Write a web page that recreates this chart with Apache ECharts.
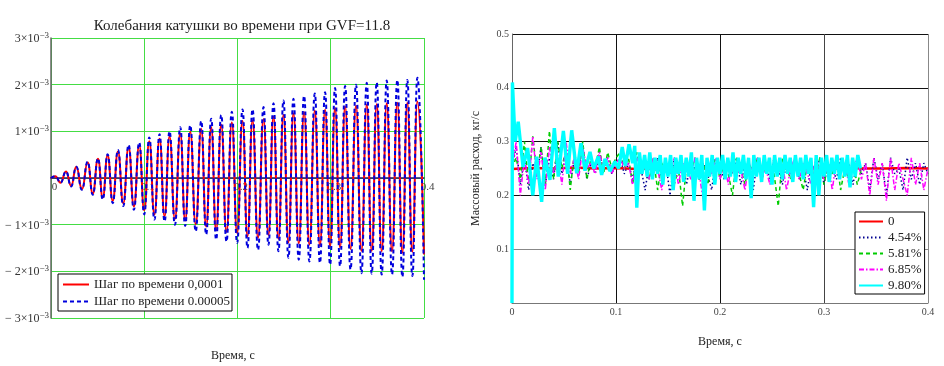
<!DOCTYPE html>
<html><head><meta charset="utf-8">
<script src="https://cdn.jsdelivr.net/npm/echarts@6/dist/echarts.min.js"></script>
<style>html,body{margin:0;padding:0;background:#fff}#c{width:944px;height:366px}</style>
</head><body><div id="c"></div>
<script>
// ---------- Left chart: coil oscillation (values in units of 1e-3) ----------
const leftTimeS = [0,
0.0046,0.0103,0.0161,0.0216,0.0271,0.0332,0.0393,0.0448,0.0504,0.0555,0.0607,0.0662,0.0718,0.0775,0.0832,0.0889,0.0946,0.1000,
0.1054,0.1109,0.1164,0.1218,0.1271,0.1329,0.1386,0.1439,0.1493,0.1552,0.1611,0.1664,0.1718,0.1771,0.1825,0.1882,0.1939,0.1996,
0.2054,0.2107,0.2161,0.2220,0.2279,0.2332,0.2386,0.2439,0.2493,0.2546,0.2600,0.2657,0.2714,0.2771,0.2829,0.2884,0.2939,0.2993,
0.3046,0.3100,0.3154,0.3212,0.3271,0.3329,0.3386,0.3439,0.3493,0.3546,0.3600,0.3657,0.3714,0.3768,0.3821,0.3875,0.3929,0.4000];
const coilStep0001 = [0,
0.04,-0.10,0.14,-0.17,0.24,-0.24,0.33,-0.33,0.41,-0.42,0.49,-0.49,0.57,-0.54,0.66,-0.61,0.70,-0.69,
0.79,-0.78,0.84,-0.82,0.89,-0.88,0.96,-0.91,0.99,-0.99,1.05,-1.04,1.09,-1.12,1.14,-1.15,1.19,-1.18,
1.22,-1.25,1.23,-1.28,1.26,-1.22,1.31,-1.30,1.35,-1.38,1.38,-1.40,1.41,-1.43,1.44,-1.45,1.46,-1.47,
1.50,-1.49,1.53,-1.52,1.55,-1.56,1.57,-1.56,1.58,-1.57,1.60,-1.57,1.61,-1.60,1.61,-1.58,1.64,-1.64];
const coilStep00005 = [0,
0.04,-0.10,0.14,-0.18,0.24,-0.25,0.35,-0.36,0.42,-0.46,0.51,-0.54,0.60,-0.60,0.71,-0.68,0.76,-0.78,
0.87,-0.89,0.94,-0.93,1.00,-1.00,1.09,-1.03,1.13,-1.14,1.22,-1.21,1.27,-1.32,1.35,-1.36,1.42,-1.39,
1.47,-1.50,1.47,-1.54,1.52,-1.43,1.60,-1.57,1.66,-1.71,1.70,-1.75,1.76,-1.79,1.81,-1.82,1.84,-1.86,
1.93,-1.89,1.97,-1.96,2.00,-2.04,2.04,-2.05,2.05,-2.07,2.09,-2.07,2.10,-2.12,2.10,-2.10,2.15,-2.18];
const leftTitle = 'Колебания катушки во времени при GVF=11.8';
const leftNames = ['Шаг по времени 0,0001', 'Шаг по времени 0.00005'];

// ---------- Right chart: mass flow (kg/s) ----------
const flowTimeS = [0,0.004,0.008,0.012,0.016,0.02,0.024,0.028,0.032,0.036,0.04,0.044,0.048,0.052,0.056,0.06,0.064,0.068,0.072,0.076,0.08,0.084,0.088,0.092,0.096,0.1,
0.104,0.108,0.112,0.116,0.12,0.124,0.128,0.132,0.136,0.14,0.144,0.148,0.152,0.156,0.16,0.164,0.168,0.172,0.176,0.18,0.184,0.188,0.192,0.196,0.2,
0.204,0.208,0.212,0.216,0.22,0.224,0.228,0.232,0.236,0.24,0.244,0.248,0.252,0.256,0.26,0.264,0.268,0.272,0.276,0.28,0.284,0.288,0.292,0.296,0.3,
0.304,0.308,0.312,0.316,0.32,0.324,0.328,0.332,0.336,0.34,0.344,0.348,0.352,0.356,0.36,0.364,0.368,0.372,0.376,0.38,0.384,0.388,0.392,0.396,0.4];
const flow454 = [0.25,0.29,0.22,0.27,0.21,0.26,0.24,0.29,0.22,0.27,0.23,0.30,0.24,0.28,0.22,0.27,0.25,0.29,0.23,0.26,0.24,0.28,0.25,0.27,0.24,0.26,
0.27,0.24,0.26,0.23,0.27,0.25,0.21,0.26,0.24,0.27,0.23,0.26,0.20,0.27,0.24,0.26,0.22,0.27,0.25,0.23,0.26,0.24,0.21,0.27,0.25,
0.23,0.26,0.24,0.27,0.22,0.26,0.25,0.21,0.27,0.24,0.26,0.23,0.27,0.25,0.22,0.26,0.24,0.27,0.23,0.25,0.21,0.26,0.24,0.27,0.22,
0.26,0.25,0.23,0.27,0.24,0.26,0.22,0.27,0.24,0.26,0.21,0.27,0.23,0.26,0.20,0.27,0.24,0.25,0.21,0.27,0.23,0.26,0.22,0.26,0.24];
const flow581 = [0.25,0.27,0.23,0.30,0.22,0.31,0.24,0.29,0.22,0.32,0.23,0.30,0.25,0.29,0.21,0.28,0.24,0.30,0.23,0.27,0.25,0.29,0.24,0.28,0.25,0.27,
0.28,0.25,0.27,0.22,0.28,0.24,0.26,0.23,0.27,0.21,0.26,0.24,0.27,0.22,0.25,0.18,0.26,0.24,0.27,0.23,0.26,0.22,0.25,0.27,0.23,
0.26,0.24,0.20,0.27,0.25,0.22,0.26,0.24,0.27,0.23,0.25,0.26,0.24,0.18,0.27,0.25,0.23,0.27,0.24,0.21,0.26,0.25,0.23,0.27,0.22,
0.26,0.24,0.27,0.21,0.25,0.23,0.26,0.22,0.25];
const flow685 = [0.25,0.30,0.20,0.27,0.22,0.31,0.23,0.28,0.21,0.29,0.24,0.27,0.22,0.30,0.24,0.27,0.23,0.29,0.25,0.26,0.24,0.28,0.25,0.27,0.24,0.26,
0.27,0.25,0.26,0.22,0.27,0.24,0.26,0.23,0.27,0.25,0.21,0.26,0.24,0.27,0.22,0.26,0.25,0.23,0.27,0.24,0.19,0.26,0.24,0.27,0.23,
0.26,0.22,0.27,0.24,0.25,0.21,0.26,0.24,0.27,0.23,0.25,0.22,0.27,0.24,0.26,0.21,0.25,0.27,0.23,0.26,0.24,0.22,0.27,0.25,0.23,
0.26,0.21,0.27,0.24,0.26,0.22,0.25,0.27,0.23,0.26,0.20,0.27,0.22,0.26,0.19,0.27,0.21,0.26,0.23,0.20,0.27,0.22,0.26,0.21,0.25];
const redTimeS = [0,0.02,0.04,0.06,0.08,0.1,0.12,0.14,0.16,0.18,0.2,0.22,0.24,0.26,0.28,0.3,0.32,0.34,0.36,0.38,0.4];
const flow0 = [0.249,0.251,0.250,0.252,0.250,0.251,0.249,0.250,0.251,0.250,0.249,0.250,0.251,0.250,0.250,0.249,0.251,0.250,0.250,0.251,0.250];
const cyanTimeS = [0,0.0004,0.003,0.006,0.0106,0.015,0.020,0.0237,0.0285,0.0317,0.0365,0.0407,0.0445,0.0494,0.0535,0.0574,0.0622,0.0663,0.0702,0.075,
0.0785,0.083,0.0862,0.0894,0.0942,0.099,0.1025,0.106,0.109,0.1125,0.116,0.118,0.12,
0.1225,0.125,0.1275,0.13,0.1325,0.135,0.1375,0.14,0.1425,0.145,0.1475,0.15,0.1525,0.155,0.1575,0.16,0.1625,0.165,0.1675,0.17,
0.1725,0.175,0.1775,0.18,0.1825,0.185,0.1875,0.19,0.1925,0.195,0.1975,0.2,0.2025,0.205,0.2075,0.21,0.2125,0.215,0.2175,0.22,
0.2225,0.225,0.2275,0.23,0.2325,0.235,0.2375,0.24,0.2425,0.245,0.2475,0.25,0.2525,0.255,0.2575,0.26,0.2625,0.265,0.2675,0.27,
0.2725,0.275,0.2775,0.28,0.2825,0.285,0.2875,0.29,0.2925,0.295,0.2975,0.3,0.3025,0.305,0.3075,0.31,0.3125,0.315,0.3175,0.32,
0.3225,0.325,0.3275,0.33,0.3325,0.335];
const flow980 = [0,0.41,0.30,0.337,0.253,0.288,0.20,0.272,0.188,0.27,0.229,0.325,0.235,0.32,0.24,0.321,0.241,0.297,0.246,0.281,
0.25,0.272,0.238,0.268,0.245,0.263,0.25,0.29,0.255,0.295,0.26,0.292,0.177,
0.28,0.24,0.275,0.235,0.28,0.23,0.27,0.24,0.275,0.22,0.27,0.235,0.275,0.21,0.27,0.24,0.275,0.225,0.27,0.235,
0.28,0.19,0.27,0.23,0.275,0.172,0.27,0.235,0.275,0.22,0.27,0.24,0.275,0.23,0.27,0.235,0.28,0.225,0.27,0.24,
0.275,0.23,0.27,0.195,0.275,0.235,0.27,0.225,0.275,0.24,0.27,0.22,0.275,0.235,0.27,0.23,0.275,0.24,0.27,0.225,
0.275,0.235,0.27,0.23,0.275,0.24,0.27,0.178,0.275,0.20,0.27,0.235,0.275,0.225,0.27,0.24,0.275,0.23,0.27,0.235,
0.275,0.215,0.27,0.235,0.275,0.25];
const rightNames = ['0','4.54%','5.81%','6.85%','9.80%'];

const zip = (t, v) => v.map((y, i) => [t[i], y]);
const SERIF = '"Liberation Serif","DejaVu Serif",serif';
const hiddenSymbol = {color: 'rgba(0,0,0,0)', borderWidth: 0, opacity: 0};

const chart = echarts.init(document.getElementById('c'), null, {renderer: 'canvas'});
const option = {
  animation: false,
  backgroundColor: '#fff',
  title: {text: leftTitle, left: 237, top: 14, textAlign: 'center',
    textStyle: {fontFamily: SERIF, fontSize: 15, fontWeight: 'normal', color: '#222'}},
  grid: [
    {left: 51, top: 38, width: 373, height: 280},
    {left: 512, top: 34, width: 416, height: 269}
  ],
  legend: [
    {data: leftNames, left: 58, top: 274, orient: 'vertical', backgroundColor: '#fff', borderColor: '#000', borderWidth: 1,
      padding: [4, 2, 3, 4], itemWidth: 26, itemHeight: 10, itemGap: 4, itemStyle: hiddenSymbol,
      textStyle: {fontFamily: SERIF, fontSize: 13, color: '#222'}},
    {data: rightNames, left: 855, top: 212, orient: 'vertical', backgroundColor: '#fff', borderColor: '#000', borderWidth: 1,
      padding: [3, 3, 2, 3], itemWidth: 24, itemHeight: 10, itemGap: 3, itemStyle: hiddenSymbol,
      textStyle: {fontFamily: SERIF, fontSize: 13, color: '#222'}}
  ],
  xAxis: [
    {gridIndex: 0, type: 'value', min: 0, max: 0.4, interval: 0.1, position: 'bottom', offset: -140,
      axisLine: {onZero: false, lineStyle: {color: '#1a1a70', width: 1.5}}, axisTick: {show: false},
      axisLabel: {fontFamily: SERIF, fontSize: 11, color: '#444', margin: 4, padding: [0, 0, 0, 7]},
      splitLine: {show: true, lineStyle: {color: '#44dd44', width: 1}}},
    {gridIndex: 1, type: 'value', min: 0, max: 0.4, interval: 0.1,
      name: 'Время, с', nameLocation: 'middle', nameGap: 33,
      nameTextStyle: {fontFamily: SERIF, fontSize: 12, color: '#222'},
      axisLine: {onZero: false, lineStyle: {color: '#777', width: 1}}, axisTick: {show: false},
      axisLabel: {fontFamily: SERIF, fontSize: 10, color: '#444', margin: 4},
      splitLine: {show: true, lineStyle: {color: ['#777', '#111', '#111', '#444', '#888'], width: 1}}}
  ],
  yAxis: [
    {gridIndex: 0, type: 'value', min: -3, max: 3, interval: 1,
      axisLine: {show: true, onZero: false, lineStyle: {color: '#666', width: 1.5}}, axisTick: {show: false},
      axisLabel: {margin: 2, formatter: v => v === 0 ? '' : `{b|${v < 0 ? '− ' : ''}${Math.abs(v)}×10}{s|−3}`,
        rich: {b: {fontFamily: SERIF, fontSize: 12, color: '#333', lineHeight: 14, verticalAlign: 'bottom'},
               s: {fontFamily: SERIF, fontSize: 9, color: '#333', lineHeight: 10, verticalAlign: 'top'}}},
      splitLine: {show: true, lineStyle: {color: '#44dd44', width: 1}}},
    {gridIndex: 1, type: 'value', min: 0, max: 0.5, interval: 0.1,
      name: 'Массовый расход, кг/с', nameLocation: 'middle', nameGap: 30, nameRotate: 90,
      nameTextStyle: {fontFamily: SERIF, fontSize: 12, color: '#222'},
      axisLine: {show: true, onZero: false, lineStyle: {color: '#666', width: 1}}, axisTick: {show: false},
      axisLabel: {fontFamily: SERIF, fontSize: 10, color: '#444', margin: 3, formatter: v => v === 0 ? '' : String(v)},
      splitLine: {show: true, lineStyle: {color: ['#777', '#888', '#111', '#111', '#111', '#111'], width: 1}}}
  ],
  graphic: [
    {type: 'text', left: 237 - 26, top: 350, style: {text: 'Время, с', font: '12px ' + SERIF, fill: '#222'}}
  ],
  series: [
    {name: leftNames[0], type: 'line', xAxisIndex: 0, yAxisIndex: 0, data: zip(leftTimeS, coilStep0001),
      showSymbol: false, symbol: 'none', smooth: 0.5, smoothMonotone: 'x', color: '#ff0000',
      lineStyle: {color: '#ff0000', width: 2}},
    {name: leftNames[1], type: 'line', xAxisIndex: 0, yAxisIndex: 0, data: zip(leftTimeS, coilStep00005),
      showSymbol: false, symbol: 'none', smooth: 0.5, smoothMonotone: 'x', color: '#0000dd',
      lineStyle: {color: '#0000dd', width: 2, type: [4, 3]}},
    {name: rightNames[0], type: 'line', xAxisIndex: 1, yAxisIndex: 1, data: zip(redTimeS, flow0),
      showSymbol: false, symbol: 'none', color: '#ff0000', lineStyle: {color: '#ff0000', width: 2.5}},
    {name: rightNames[1], type: 'line', xAxisIndex: 1, yAxisIndex: 1, data: zip(flowTimeS, flow454),
      showSymbol: false, symbol: 'none', color: '#000090', lineStyle: {color: '#000090', width: 1.5, type: [1.5, 2.5]}},
    {name: rightNames[2], type: 'line', xAxisIndex: 1, yAxisIndex: 1, data: zip(flowTimeS, flow581),
      showSymbol: false, symbol: 'none', color: '#00cc00', lineStyle: {color: '#00cc00', width: 1.5, type: [4, 3]}},
    {name: rightNames[3], type: 'line', xAxisIndex: 1, yAxisIndex: 1, data: zip(flowTimeS, flow685),
      showSymbol: false, symbol: 'none', color: '#ff00ff', lineStyle: {color: '#ff00ff', width: 1.5, type: [5, 2, 1.5, 2]}},
    {name: rightNames[4], type: 'line', xAxisIndex: 1, yAxisIndex: 1, data: zip(cyanTimeS, flow980),
      showSymbol: false, symbol: 'none', color: '#00ffff', lineStyle: {color: '#00ffff', width: 3.4, join: 'bevel'}}
  ]
};
chart.setOption(option);
</script>
</body></html>
